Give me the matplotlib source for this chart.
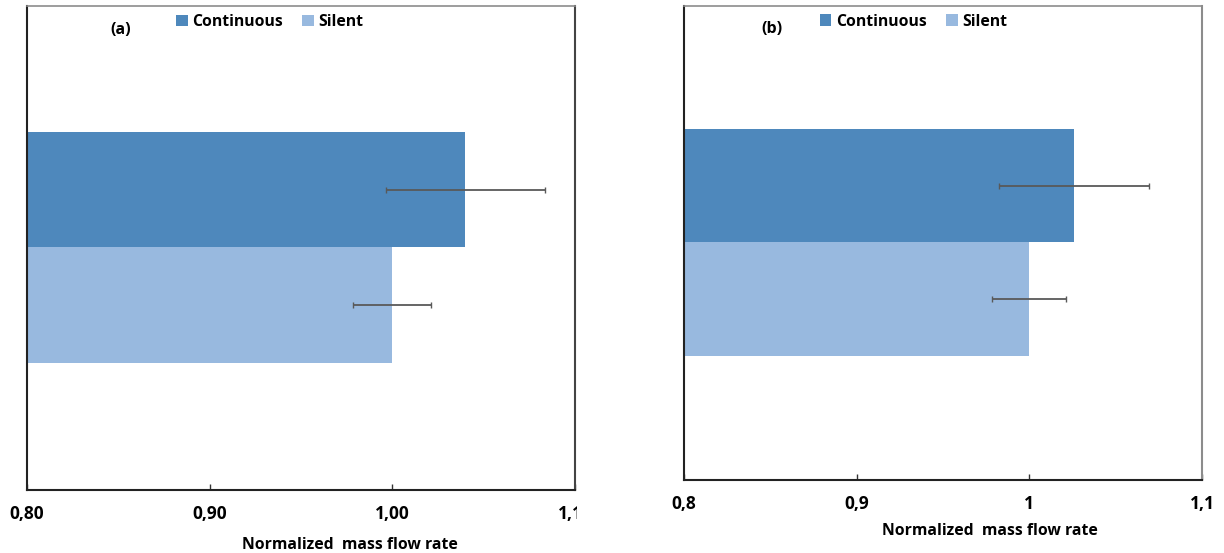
import matplotlib
matplotlib.use('Agg')
import matplotlib.pyplot as plt
from matplotlib.transforms import Bbox, TransformedBbox
from matplotlib.ticker import FuncFormatter

plt.rcParams['font.family'] = ['Open Sans', 'DejaVu Sans']
plt.rcParams['font.weight'] = 'bold'

# ── data ─────────────────────────────────────────────────────
SERIES = ['Continuous', 'Silent']
VALUES_A = [1.040, 1.000]
ERRORS_A = [0.0435, 0.0213]
VALUES_B = [1.026, 1.000]
ERRORS_B = [0.0433, 0.0214]
XTICKS = [0.8, 0.9, 1.0, 1.1]

DARK = '#4E88BC'
LIGHT = '#98B9DF'
ERR = '#595959'


def draw_panel(ax, values, errors, tag, decimals, label_top):
    ypos = [1, 0]
    colors = [DARK, LIGHT]
    for y, v, e, c, name in zip(ypos, values, errors, colors, SERIES):
        ax.barh(y, v - 0.8, left=0.8, height=1.0, color=c, label=name, zorder=2)
        ax.errorbar(v, y, xerr=e, fmt='none', ecolor=ERR, elinewidth=1.3,
                    capsize=2.5, capthick=1, zorder=3)

    ax.set_xlim(0.8, 1.1)
    ax.set_ylim(-1.6, 2.59)
    ax.set_xticks(XTICKS)
    ax.xaxis.set_major_formatter(FuncFormatter(
        lambda v, p: f'{v:.{decimals}f}'.replace('.', ',') if decimals
        else (f'{v:g}'.replace('.', ','))))
    ax.set_yticks([])
    ax.tick_params(axis='x', direction='in', length=4, width=1, pad=10.5,
                   labelsize=12.5, color='#333333')

    for s in ['left', 'bottom']:
        ax.spines[s].set_color('#222222')
        ax.spines[s].set_linewidth(1.5)
    ax.spines['top'].set_color('#8c8c8c')
    ax.spines['top'].set_linewidth(1.2)
    ax.spines['right'].set_color('#444444' if tag == '(a)' else '#8c8c8c')
    ax.spines['right'].set_linewidth(1.5)

    ax.legend(loc='center', bbox_to_anchor=(0.443, 0.967), ncol=2, frameon=False,
              handlelength=0.75, handleheight=0.75, handletextpad=0.3,
              columnspacing=1.2, prop={'weight': 'bold', 'size': 11.3})
    ax.text(0.170, 0.951, tag, transform=ax.transAxes, ha='center', va='center',
            fontsize=11.5, fontweight='bold')

    ax.set_xlabel('Normalized  mass flow rate', fontsize=11.3, fontweight='bold')
    ax.xaxis.set_label_coords(0.59, label_top)


fig = plt.figure(figsize=(12.24, 5.53), dpi=100)
ax_a = fig.add_axes([0.0221, 0.1139, 0.4477, 0.8753])
ax_b = fig.add_axes([0.5588, 0.1320, 0.4232, 0.8571])

draw_panel(ax_a, VALUES_A, ERRORS_A, '(a)', 2, -0.097)
draw_panel(ax_b, VALUES_B, ERRORS_B, '(b)', 0, -0.09)

# left panel was cropped on the right edge: clip its last tick label
clip = TransformedBbox(Bbox([[0, 0], [0.4715, 1]]), fig.transFigure)
for lab in ax_a.get_xticklabels():
    lab.set_clip_box(clip)
    lab.set_clip_on(True)

fig.savefig('out.png', dpi=100, facecolor='white')
